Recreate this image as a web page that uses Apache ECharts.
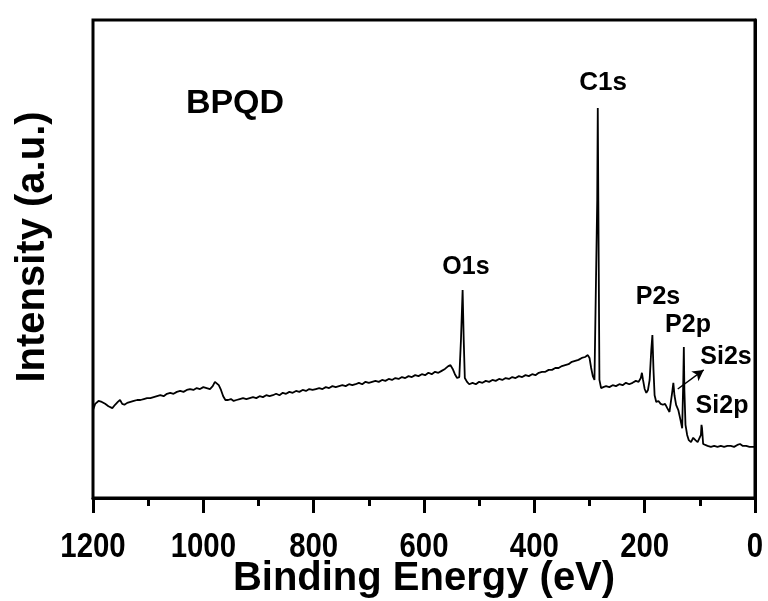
<!DOCTYPE html>
<html><head><meta charset="utf-8">
<script src="https://cdn.jsdelivr.net/npm/echarts@6/dist/echarts.min.js"></script>
<style>html,body{margin:0;padding:0;background:#fff}#c{width:768px;height:601px}</style>
</head><body><div id="c"></div>
<script>
var energy = [1200,1196,1190,1184,1178,1172,1165,1160,1155,1151,1147,1143,1138,1132,1126,1120,1114,1108,1102,1096,1090,1084,1078,1072,1066,1060,1054,1048,1042,1036,1030,1024,1018,1012,1006,1000,994,988,983,979,976,972,968,964,960,955,950,945,940,934,928,922,916,910,904,898,892,886,880,874,868,862,856,850,844,838,832,826,820,814,808,802,796,790,784,778,772,766,760,754,748,742,736,730,724,718,712,706,700,694,688,682,676,670,664,658,652,646,640,634,628,622,616,610,604,598,592,586,580,574,568,562,556,552,548,544,540,536,533,530,528,526,522,518,512,506,500,494,488,482,476,470,464,458,452,446,440,434,428,422,416,410,404,398,392,386,380,374,368,362,356,350,344,338,332,326,320,314,308,303,300,297,294,291,288,286,285,284,282,279,275,270,264,258,252,246,240,234,228,222,216,211,207,205,203,200,197,194,191,188,186,184,182,179,175,171,167,163,159,155,152,150,148,146,143,139,135,132,130,129,128,126,123,120,116,112,108,104,101,98,97,96,94,91,86,80,74,68,62,56,50,44,38,32,27,22,16,10,4,0];
var intensity = [18.4,19.7,20.3,20.1,19.7,19.2,18.8,19.5,20.1,20.5,19.7,19.5,19.9,20.1,20.3,20.5,20.5,20.7,20.9,20.9,21.1,21.3,21.5,21.3,21.8,22.0,21.8,22.2,22.4,22.2,22.6,22.8,22.6,23.0,22.8,23.2,23.0,22.8,23.4,24.3,24.5,23.6,22.6,21.3,20.5,20.5,20.7,20.3,20.5,20.7,20.9,20.7,20.9,21.1,20.9,21.3,21.1,21.5,21.3,21.5,21.8,21.5,22.0,21.8,22.2,22.0,22.4,22.2,22.6,22.4,22.8,22.6,22.8,23.0,22.8,23.2,23.0,23.4,23.2,23.4,23.6,23.4,23.8,23.6,23.8,24.1,23.8,24.3,24.1,24.3,24.5,24.3,24.7,24.5,24.9,24.7,25.1,24.9,25.3,25.1,25.5,25.3,25.7,25.5,25.9,25.7,26.2,25.9,26.4,26.2,26.6,27.0,27.6,27.8,27.0,25.9,25.1,25.3,33.1,43.5,33.1,25.1,24.3,23.8,24.1,23.8,24.3,24.1,24.5,24.3,24.7,24.5,24.9,24.7,25.1,24.9,25.3,25.1,25.5,25.3,25.7,25.5,25.9,25.7,26.2,26.4,26.4,26.8,26.8,27.2,27.2,27.6,27.8,28.0,28.5,28.7,28.9,29.3,29.5,29.9,29.3,27.2,25.5,24.7,25.1,62.3,81.6,62.3,24.7,23.0,23.2,23.4,23.2,23.6,23.4,23.8,23.6,24.1,23.8,24.1,24.5,24.3,25.1,26.2,24.7,22.8,22.0,22.6,24.7,31.0,34.1,26.8,21.5,20.1,20.3,19.7,19.5,19.7,18.8,18.0,18.4,22.2,24.1,21.5,19.5,18.4,16.3,14.6,24.7,31.6,22.6,15.3,13.2,12.1,11.7,12.6,12.1,11.7,11.5,13.2,15.3,14.6,11.3,11.1,10.9,10.7,10.9,10.7,10.9,10.7,10.9,10.9,10.7,11.1,11.3,10.9,10.9,10.7,10.7,10.7];
var xTicks = [0,200,400,600,800,1000,1200];
var peakLabels = ['BPQD','C1s','O1s','P2s','P2p','Si2s','Si2p'];
var arrowFrom = [140, 22.8];
var arrowTo = [93, 26.8];

var chart = echarts.init(document.getElementById('c'), null, {renderer:'canvas'});
var data = energy.map(function(e,i){return [e,intensity[i]];});
var F = "'Liberation Sans', Arial, sans-serif";
function lab(text, x, y, size){
  return {type:'text', x:x, y:y, z:100, style:{text:text, font:'bold '+size+'px '+F, fill:'#000', align:'center', verticalAlign:'middle'}};
}
chart.setOption({
  backgroundColor:'#fff',
  animation:false,
  grid:{left:93, right:13, top:20, bottom:103, show:true, borderWidth:3, borderColor:'#000', containLabel:false, outerBoundsMode:'none'},
  xAxis:{type:'value', inverse:true, min:0, max:1200, interval:200,
    name:'Binding Energy (eV)', nameLocation:'middle', nameGap:61,
    nameTextStyle:{fontFamily:F, fontWeight:'bold', fontSize:40, color:'#000'},
    axisLine:{show:true, onZero:false, lineStyle:{color:'#000', width:3}},
    axisTick:{show:true, inside:false, length:15, lineStyle:{color:'#000', width:3}},
    minorTick:{show:true, splitNumber:2, length:8, lineStyle:{color:'#000', width:3}},
    splitLine:{show:false},
    axisLabel:{show:false}
  },
  yAxis:{type:'value', min:0, max:100,
    name:'Intensity (a.u.)', nameLocation:'middle', nameGap:40, nameRotate:90,
    nameTextStyle:{fontFamily:F, fontWeight:'bold', fontSize:40, color:'#000', padding:[0,0,0,24]},
    axisLine:{show:true, lineStyle:{color:'#000', width:3}},
    axisTick:{show:false}, axisLabel:{show:false}, splitLine:{show:false}
  },
  series:[{type:'line', data:data, showSymbol:false, symbol:'none',
    lineStyle:{color:'#000', width:1.8}, silent:true,
    markLine:{silent:true, symbol:['none','arrow'], symbolSize:[9,11],
      lineStyle:{color:'#000', width:1.5, type:'solid'}, label:{show:false},
      data:[[{coord:arrowFrom},{coord:arrowTo}]]}
  }]
});
var g = [
  lab(peakLabels[0], 235, 104, 34),
  lab(peakLabels[1], 603, 83, 26),
  lab(peakLabels[2], 466, 267, 25),
  lab(peakLabels[3], 658, 297, 25),
  lab(peakLabels[4], 688, 325, 25),
  lab(peakLabels[5], 726, 357, 25),
  lab(peakLabels[6], 722, 406, 25)
];
// tick labels placed at positions given by the axis scale, drawn condensed
var axisY = chart.convertToPixel({yAxisIndex:0}, 0);
xTicks.forEach(function(v){
  var px = chart.convertToPixel({xAxisIndex:0}, v);
  g.push({type:'text', x:px, y:axisY+49, scaleX:0.84, z:100,
    style:{text:String(v), font:'bold 35px '+F, fill:'#000', align:'center', verticalAlign:'middle'}});
});
chart.setOption({graphic:g});
</script></body></html>
